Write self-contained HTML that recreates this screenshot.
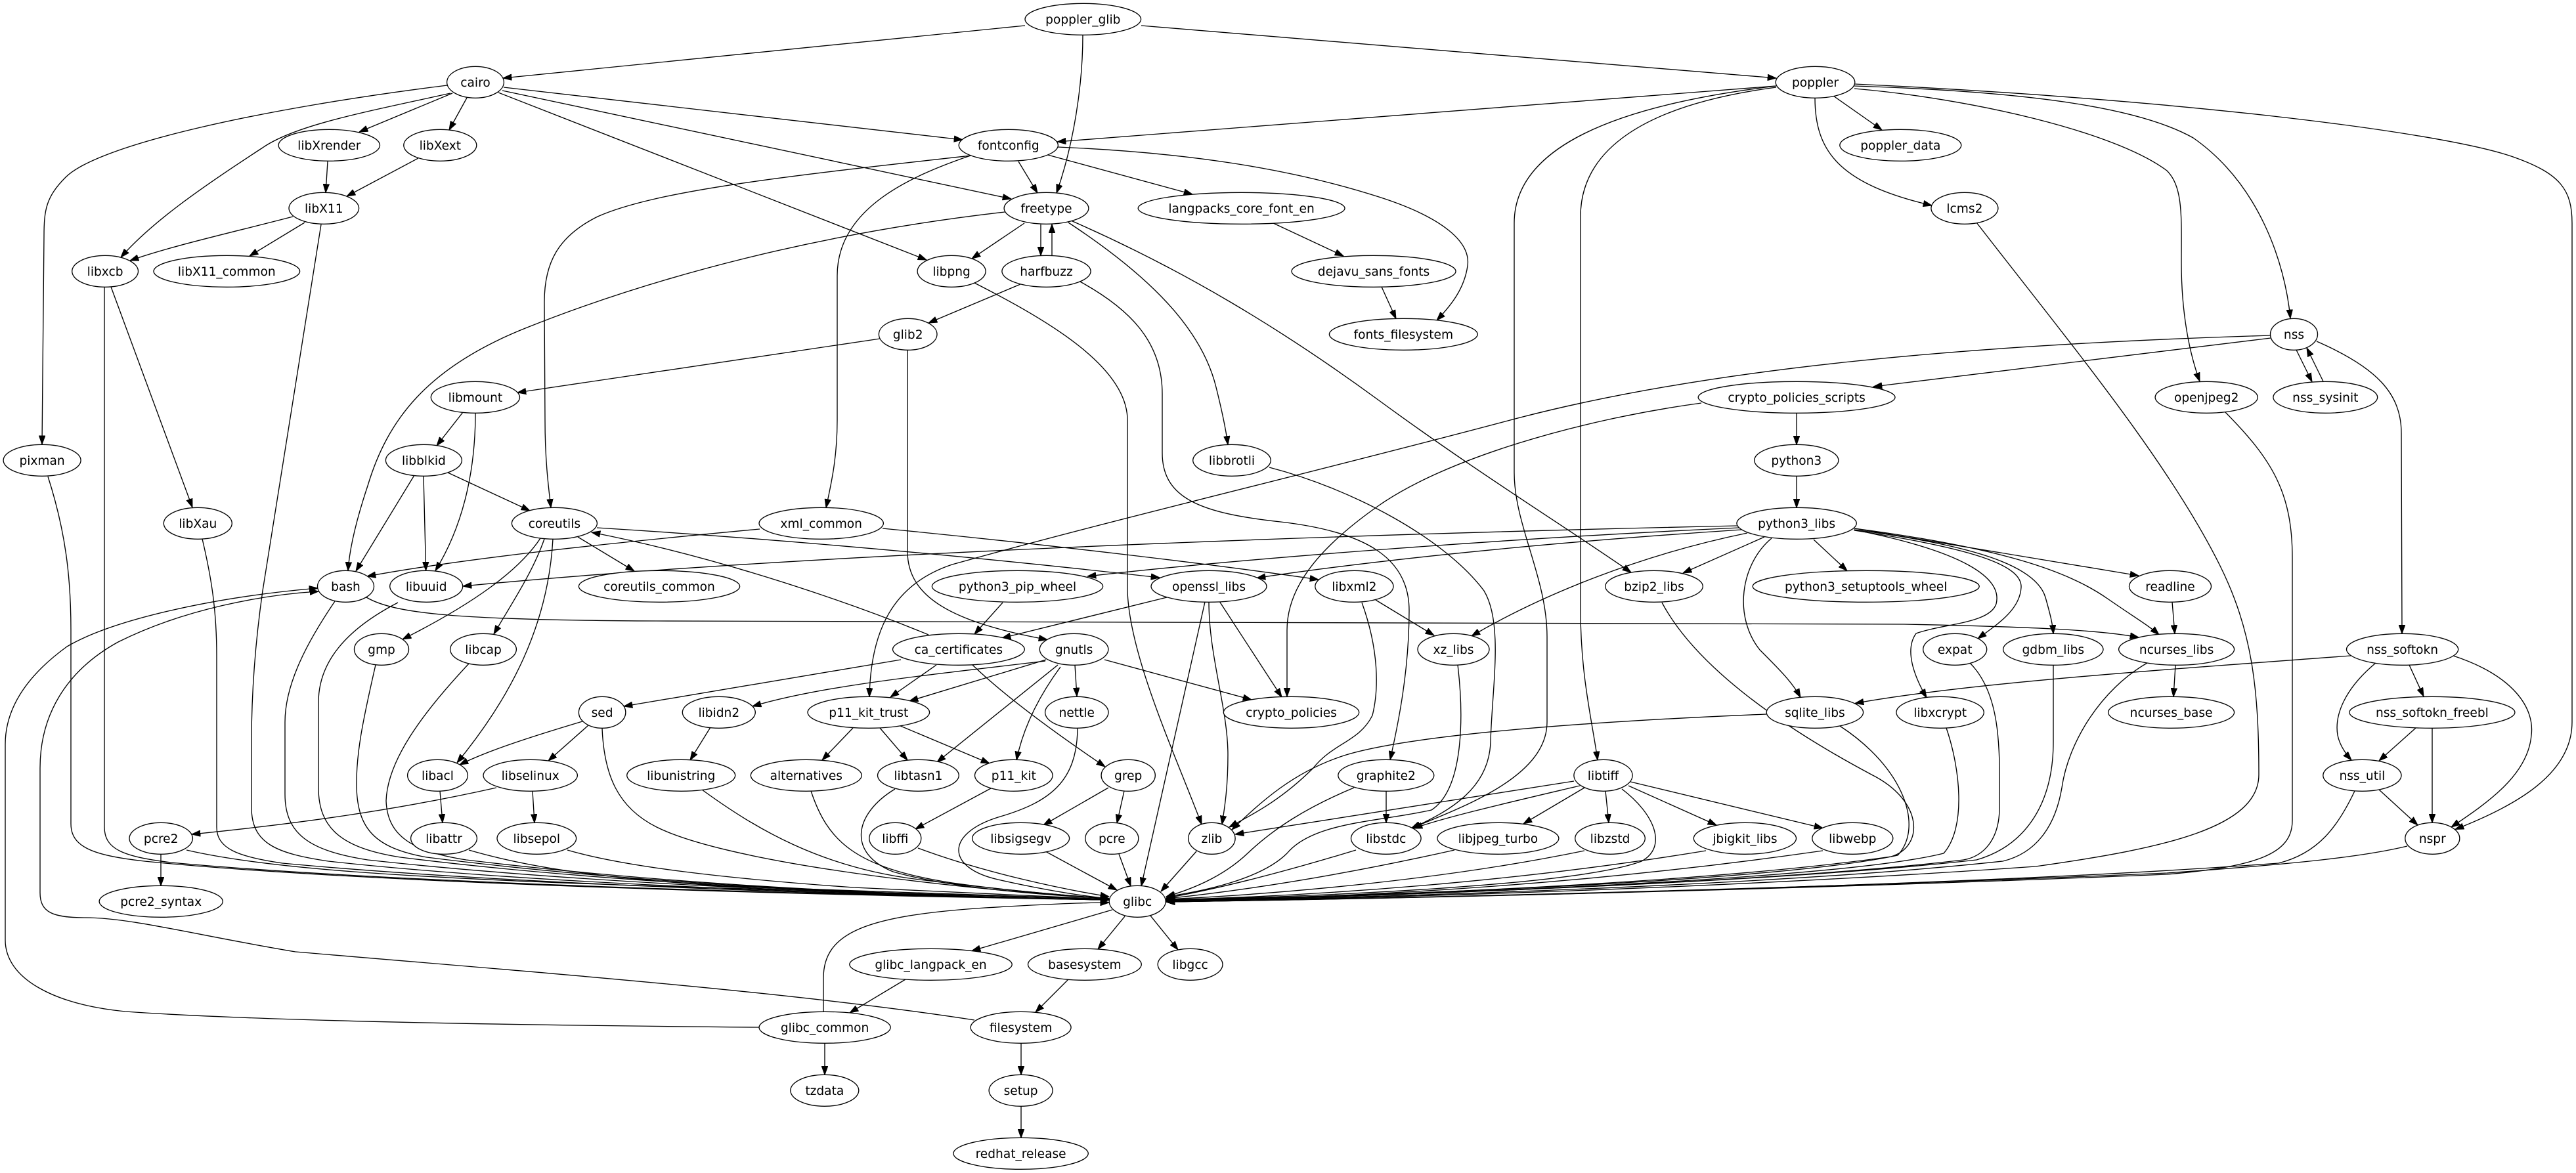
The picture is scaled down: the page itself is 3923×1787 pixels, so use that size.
<!DOCTYPE html>
<html><head><meta charset="utf-8"><style>
html,body{margin:0;padding:0;background:#fff;}
svg{display:block;}
#edges path{fill:none;stroke:#000;stroke-width:1.35;marker-end:url(#a);}
#nodes ellipse{fill:#fff;stroke:#000;stroke-width:1.35;}
#nodes text{font-family:"DejaVu Sans","Liberation Sans",sans-serif;font-size:18.6px;text-anchor:middle;fill:#000;}
</style></head><body>
<svg xmlns="http://www.w3.org/2000/svg" width="3923" height="1787" viewBox="0 0 3923 1787">
<defs><marker id="a" viewBox="0 0 14 10" refX="13.3" refY="5" markerWidth="14" markerHeight="10" orient="auto" markerUnits="userSpaceOnUse"><path d="M0,0.3 L13.3,5 L0,9.7 z" fill="#000" stroke="#000" stroke-width="1"/></marker></defs>
<rect width="3923" height="1787" fill="#fff"/>
<g id="edges">
<path d="M1561,39 L766,119"/>
<path d="M1649,53 C1649,130 1635,220 1609,294"/>
<path d="M1738,39 L2705,119"/>
<path d="M681,130 C400,165 150,220 100,270 C70,300 67,320 67,360 L64,677"/>
<path d="M686,142 C560,170 450,190 400,225 C300,290 230,340 184,392"/>
<path d="M689,142 L547,201"/>
<path d="M711,149 L684,198"/>
<path d="M767,133 L1466,213"/>
<path d="M765,138 L1540,303"/>
<path d="M759,141 L1411,396"/>
<path d="M499,246 L496,293.5"/>
<path d="M637,241 L528,299"/>
<path d="M446,330 C350,355 260,375 198,397"/>
<path d="M464,339 L380,390"/>
<path d="M489,342 L400,900 C390,970 383,1050 383,1130 L383,1230 C383,1285 420,1300 500,1312 C800,1345 1250,1362 1689,1371"/>
<path d="M169,437 L293,773"/>
<path d="M159,437 L159,1260 C159,1295 190,1305 260,1314 C600,1345 1200,1362 1689,1371"/>
<path d="M308,821 C322,880 330,930 330,1000 L330,1260 C330,1292 360,1305 430,1315 C750,1345 1250,1363 1689,1371"/>
<path d="M73,726 C100,810 108,880 108,960 L108,1255 C108,1290 140,1303 220,1312 C550,1345 1200,1363 1689,1371"/>
<path d="M2704,131 L1610,216"/>
<path d="M2792,146 L2866,198"/>
<path d="M2764,149 C2764,230 2800,280 2942,313"/>
<path d="M2824,135 C3000,150 3220,200 3300,260 C3325,285 3322,330 3322,400 C3322,480 3335,540 3350,581"/>
<path d="M2824,131 C3100,140 3260,165 3340,210 C3440,280 3480,400 3488,485"/>
<path d="M2824,128 C3300,150 3720,200 3830,240 C3900,265 3917,290 3917,340 L3917,1100 C3917,1180 3830,1228 3739,1263.5"/>
<path d="M2705,133 C2500,160 2407,230 2407,330 L2407,930 C2407,1030 2425,1100 2433,1158"/>
<path d="M2705,131 C2420,165 2306,240 2306,340 L2306,720 C2306,800 2356,880 2356,970 L2356,1100 C2356,1180 2240,1225 2150,1261.5"/>
<path d="M1933,712 C2060,745 2200,820 2260,900 C2290,950 2272,1050 2270,1130 C2268,1200 2210,1235 2149,1262"/>
<path d="M2406,1197 C2300,1222 2200,1245 2153,1262"/>
<path d="M1551,246 L1580,294"/>
<path d="M1592,235 L1816,296"/>
<path d="M1611,224 C1800,232 1960,255 2100,300 C2200,332 2240,370 2235,405 C2230,440 2210,465 2188,488"/>
<path d="M1479,237 C1200,268 1000,290 910,330 C850,360 829,400 829,460 L830,640 C830,700 835,740 839,773.5"/>
<path d="M1481,236 C1380,270 1275,320 1275,420 L1275,640 C1275,700 1265,740 1258,773.5"/>
<path d="M1530,323 C1250,355 1000,420 800,500 C650,560 590,640 560,740 C540,800 532,840 530,869.5"/>
<path d="M1560,340 L1480,394"/>
<path d="M1585,342 L1585,389.5"/>
<path d="M1602,389 L1602,341.5"/>
<path d="M1627,339 C1750,420 1830,500 1852,590 C1862,630 1867,655 1870,677.5"/>
<path d="M1631,336 C1800,410 1950,500 2100,610 C2250,720 2380,800 2484,872"/>
<path d="M1554,433 L1414,492"/>
<path d="M1643,428 C1720,470 1770,520 1770,600 L1770,690 C1770,760 1830,782 1950,795 C2080,810 2146,850 2146,930 C2146,1020 2130,1100 2117,1157.5"/>
<path d="M1484,431 C1600,490 1717,560 1717,640 L1717,900 C1720,1000 1790,1150 1830,1256"/>
<path d="M1937,339 L2046,390"/>
<path d="M2104,437 L2126,485.5"/>
<path d="M1340,516 L788,598"/>
<path d="M1382,533 L1382,840 C1382,910 1450,948 1595,974.5"/>
<path d="M705,628 L665,679"/>
<path d="M724,629 C724,700 712,790 663,869.5"/>
<path d="M631,724 L542,870"/>
<path d="M645,725 L648.6,869.3"/>
<path d="M682,720 L807,778"/>
<path d="M880,818 L966,870"/>
<path d="M909,804 C1200,822 1500,850 1766,880"/>
<path d="M823,820 C790,870 720,920 613,974"/>
<path d="M829,821 C812,870 782,915 752,966"/>
<path d="M842,821 C835,950 780,1060 696,1162"/>
<path d="M558,910 C600,935 700,945 1000,946 L2900,951 C3100,955 3200,960 3257,971"/>
<path d="M510,916 C470,975 434,1040 434,1100 L434,1210 C434,1270 470,1296 560,1310 C850,1342 1250,1362 1689,1371"/>
<path d="M606,918 C525,960 485,1010 485,1070 L485,1200 C485,1262 520,1292 610,1306 C880,1340 1250,1362 1689,1371"/>
<path d="M1157,806 C900,830 700,852 559,878"/>
<path d="M1344,805 C1600,830 1850,860 2008,883"/>
<path d="M2646,801 C2000,815 1200,845 705,893"/>
<path d="M2649,804 C2300,820 1900,850 1656,878"/>
<path d="M2652,807 C2300,830 2050,860 1914,880.5"/>
<path d="M2661,812 C2500,845 2350,905 2241,969"/>
<path d="M2687,818 L2563,873"/>
<path d="M2698,820 C2650,860 2640,940 2680,990 C2710,1020 2730,1040 2742,1062.5"/>
<path d="M2762,822 L2813,869.5"/>
<path d="M2823,807 C2990,840 3050,880 3040,920 C3030,950 2960,950 2918,965 C2900,990 2915,1030 2934,1063"/>
<path d="M2824,808 C3000,835 3080,860 3078,895 C3076,930 3040,952 3012,973"/>
<path d="M2824,807 C3000,830 3100,860 3115,910 C3122,935 3126,950 3127,965.5"/>
<path d="M2824,805 C3050,835 3150,870 3211,913 C3250,940 3275,955 3288,967"/>
<path d="M2824,805 L3257,877"/>
<path d="M3308,917 L3312,965.5"/>
<path d="M3313,1013 L3310,1061.5"/>
<path d="M3270,1010 C3200,1050 3150,1130 3140,1200 C3130,1260 3100,1300 3050,1312 C2700,1350 2100,1367 1776,1373"/>
<path d="M2736,629.5 L2736,677.5"/>
<path d="M2591,614 C2400,640 2200,700 2100,770 C2000,840 1960,900 1960,960 L1960,1061.5"/>
<path d="M2736,725.5 L2736,773.5"/>
<path d="M3458,515 C3200,545 3000,570 2853,589"/>
<path d="M3458,511 C3000,525 2600,560 2300,640 C2000,720 1700,790 1450,860 C1360,890 1326,960 1324,1061.5"/>
<path d="M3497,533 L3521,581.5"/>
<path d="M3538,581 L3513,530"/>
<path d="M3528,520 C3620,560 3657,600 3657,660 L3658,965.5"/>
<path d="M3389,628 C3460,700 3491,750 3491,850 L3491,1250 C3491,1300 3440,1320 3300,1332 C2700,1357 2100,1369 1776,1374"/>
<path d="M3010,339 C3150,520 3300,700 3380,860 C3430,960 3440,1050 3440,1180 C3440,1260 3300,1292 3100,1320 C2600,1355 2100,1368 1776,1374"/>
<path d="M3580,999 C3300,1020 3000,1040 2825,1071.5"/>
<path d="M3669,1013 L3691,1061"/>
<path d="M3618,1010 C3570,1050 3555,1090 3560,1120 C3563,1135 3572,1148 3581,1158"/>
<path d="M3736,999 C3830,1030 3860,1080 3855,1120 C3850,1180 3790,1222 3733,1260"/>
<path d="M3679,1109 L3623,1159"/>
<path d="M3704,1109.5 L3704,1253.5"/>
<path d="M3623,1203 L3682,1257"/>
<path d="M3586,1205 C3560,1260 3530,1300 3470,1315 C3000,1350 2200,1368 1776,1374"/>
<path d="M3666,1289 C3600,1305 3500,1316 3300,1330 C2700,1356 2100,1369 1776,1374"/>
<path d="M2776,1296 C2400,1350 2050,1368 1776,1372"/>
<path d="M2598,1296 C2300,1345 2000,1365 1776,1371"/>
<path d="M2413,1296 C2200,1340 1950,1362 1776,1370"/>
<path d="M2215,1295 C2050,1332 1900,1356 1776,1369"/>
<path d="M2065,1295 C1950,1330 1850,1355 1776,1368"/>
<path d="M2470,1202 C2520,1240 2540,1290 2500,1312 C2400,1350 2000,1366 1776,1371"/>
<path d="M2062,1200 C1990,1230 1940,1262 1900,1300 C1860,1338 1810,1356 1776,1366"/>
<path d="M2220,1013 C2228,1080 2232,1200 2180,1234 C2100,1252 2000,1252 1960,1300 C1920,1340 1830,1358 1776,1366"/>
<path d="M2531,918 C2580,1010 2700,1100 2850,1180 C2930,1220 2930,1290 2880,1305 C2600,1345 2100,1366 1776,1372"/>
<path d="M2802,1106 C2900,1170 2930,1260 2890,1303 C2700,1344 2100,1364 1776,1372"/>
<path d="M2964,1109 C2985,1170 2995,1260 2960,1300 C2800,1340 2200,1362 1776,1373"/>
<path d="M3000,1010 C3050,1060 3045,1150 3045,1230 C3045,1280 3020,1305 2990,1310 C2700,1345 2100,1365 1776,1373"/>
<path d="M3127,1013 L3127,1130 C3127,1230 3080,1290 3010,1310 C2700,1345 2100,1365 1776,1373"/>
<path d="M1822,1297 L1768,1358"/>
<path d="M1777,910 L1526,972"/>
<path d="M1857,916 L1952,1062"/>
<path d="M1841,917 C1841,1000 1870,1080 1870,1150 C1870,1200 1865,1230 1861,1256"/>
<path d="M1835,917 L1738,1350"/>
<path d="M1527,918 L1484,966"/>
<path d="M1414,967 C1300,920 1100,850 901,811"/>
<path d="M1372,1005 L950,1076"/>
<path d="M1426,1013 L1356,1062"/>
<path d="M1481,1013 C1530,1060 1600,1112 1683,1168"/>
<path d="M1592,1007 C1400,1030 1250,1045 1146,1076"/>
<path d="M1593,1005 L1385,1068"/>
<path d="M1611,1013 L1427,1161"/>
<path d="M1615,1016 C1590,1050 1560,1100 1548,1158"/>
<path d="M1637,1013 L1640,1061"/>
<path d="M1682,1005 L1906,1066"/>
<path d="M1082,1108 L1051,1158"/>
<path d="M1299,1109 L1252,1158"/>
<path d="M1340,1109 L1382,1158"/>
<path d="M1369,1105 L1507,1163"/>
<path d="M1509,1201 L1394,1263"/>
<path d="M1688,1200 L1589,1257"/>
<path d="M1712,1205 L1701,1254"/>
<path d="M1641,1110 C1640,1190 1600,1222 1520,1245 C1440,1270 1440,1322 1520,1340 C1600,1358 1650,1365 1689,1369"/>
<path d="M1363,1202 C1300,1240 1290,1300 1360,1328 C1450,1354 1600,1364 1689,1369"/>
<path d="M1398,1292 C1500,1330 1620,1355 1689,1366"/>
<path d="M1592,1297 L1701,1356"/>
<path d="M1704,1301 L1722,1350"/>
<path d="M1235,1205 C1260,1280 1300,1322 1450,1345 C1550,1359 1640,1365 1689,1369"/>
<path d="M1069,1203 C1150,1262 1250,1322 1400,1340 C1520,1355 1620,1364 1689,1369"/>
<path d="M284,1295 C400,1322 600,1337 1000,1350 C1300,1360 1550,1366 1689,1370"/>
<path d="M714,1295 C800,1320 900,1336 1100,1350 C1400,1362 1550,1367 1689,1370"/>
<path d="M864,1295 C950,1320 1100,1338 1300,1352 C1500,1362 1600,1366 1689,1370"/>
<path d="M917,1110 C920,1180 940,1230 1000,1260 C1100,1310 1400,1350 1689,1369"/>
<path d="M572,1013 C552,1100 542,1150 543,1200 C545,1262 570,1292 650,1306 C920,1340 1250,1362 1689,1371"/>
<path d="M714,1011 C640,1090 590,1160 588,1220 C590,1272 625,1297 710,1310 C960,1340 1260,1362 1689,1371"/>
<path d="M1254,1541 L1254,1490 C1254,1420 1320,1395 1500,1383 C1600,1377 1650,1375 1689,1375"/>
<path d="M1694,1386 L1480,1448.5"/>
<path d="M1713,1396 L1672,1446"/>
<path d="M1752,1395 L1794,1447"/>
<path d="M1379,1492 L1294,1543"/>
<path d="M1627,1492 L1577,1542"/>
<path d="M1256,1589.5 L1256,1637.5"/>
<path d="M1555,1589.5 L1555,1637.5"/>
<path d="M1555,1685.5 L1555,1733.5"/>
<path d="M1156,1565 C800,1562 400,1556 191,1541 C80,1530 8,1490 8,1432 L8,1134 C8,1080 40,1030 102,985 C170,945 320,910 484,896"/>
<path d="M1484,1554 C1200,1510 800,1480 450,1450 C300,1425 200,1398 130,1398 C80,1398 61,1390 61,1360 L61,1170 C61,1090 100,1022 180,978 C280,928 400,906 485,901"/>
<path d="M245,1301 L245,1349.5"/>
<path d="M756,1200 C600,1235 450,1255 292,1271"/>
<path d="M811,1205 L814,1253.5"/>
<path d="M670,1205 L674,1253.5"/>
<path d="M887,1099 C800,1125 740,1145 700,1165"/>
<path d="M896,1105 L835,1159"/>
<path d="M2095,914 L2184,968"/>
<path d="M2074,918 C2100,990 2100,1050 2090,1090 C2070,1130 2030,1132 2000,1170 C1950,1220 1905,1242 1872,1260"/>
<path d="M2690,1088 C2400,1100 2150,1120 2050,1150 C1970,1175 1920,1222 1876,1264"/>
<path d="M2397,1190 L1881,1271"/>
<path d="M2413,1200 L2320,1255"/>
<path d="M2445,1205 L2450,1253.5"/>
<path d="M2480,1197 L2614,1257"/>
<path d="M2483,1191 L2776,1261.5"/>
<path d="M2111,1205.5 L2111,1253.5"/>
</g>
<g id="nodes">
<ellipse cx="1649.3" cy="29.3" rx="88.3" ry="24"/><text x="1649.3" y="35.8">poppler_glib</text>
<ellipse cx="724" cy="125.3" rx="43.4" ry="24"/><text x="724" y="131.8">cairo</text>
<ellipse cx="2764.5" cy="125.3" rx="60.3" ry="24"/><text x="2764.5" y="131.8">poppler</text>
<ellipse cx="501.3" cy="221.3" rx="77.2" ry="24"/><text x="501.3" y="227.8">libXrender</text>
<ellipse cx="670.3" cy="221.3" rx="55.5" ry="24"/><text x="670.3" y="227.8">libXext</text>
<ellipse cx="1535.8" cy="221.3" rx="75.6" ry="24"/><text x="1535.8" y="227.8">fontconfig</text>
<ellipse cx="2894.3" cy="221.3" rx="92.5" ry="24"/><text x="2894.3" y="227.8">poppler_data</text>
<ellipse cx="493.3" cy="317.3" rx="53.3" ry="24"/><text x="493.3" y="323.8">libX11</text>
<ellipse cx="1593.5" cy="317.3" rx="64.4" ry="24"/><text x="1593.5" y="323.8">freetype</text>
<ellipse cx="1890.6" cy="317.3" rx="157.4" ry="24"/><text x="1890.6" y="323.8">langpacks_core_font_en</text>
<ellipse cx="2991.9" cy="317.3" rx="51" ry="24"/><text x="2991.9" y="323.8">lcms2</text>
<ellipse cx="160.1" cy="413.3" rx="50.4" ry="24"/><text x="160.1" y="419.8">libxcb</text>
<ellipse cx="345.3" cy="413.3" rx="111.3" ry="24"/><text x="345.3" y="419.8">libX11_common</text>
<ellipse cx="1449.1" cy="413.3" rx="52" ry="24"/><text x="1449.1" y="419.8">libpng</text>
<ellipse cx="1593.5" cy="413.3" rx="67.6" ry="24"/><text x="1593.5" y="419.8">harfbuzz</text>
<ellipse cx="2092" cy="413.3" rx="125" ry="24"/><text x="2092" y="419.8">dejavu_sans_fonts</text>
<ellipse cx="1382.7" cy="509.3" rx="44.3" ry="24"/><text x="1382.7" y="515.8">glib2</text>
<ellipse cx="2137.3" cy="509.3" rx="112.9" ry="24"/><text x="2137.3" y="515.8">fonts_filesystem</text>
<ellipse cx="3493.5" cy="509.3" rx="36" ry="24"/><text x="3493.5" y="515.8">nss</text>
<ellipse cx="723.9" cy="605.3" rx="67.6" ry="24"/><text x="723.9" y="611.8">libmount</text>
<ellipse cx="2736.1" cy="605.3" rx="149.9" ry="24"/><text x="2736.1" y="611.8">crypto_policies_scripts</text>
<ellipse cx="3360.2" cy="605.3" rx="78.1" ry="24"/><text x="3360.2" y="611.8">openjpeg2</text>
<ellipse cx="3541.3" cy="605.3" rx="79.4" ry="24"/><text x="3541.3" y="611.8">nss_sysinit</text>
<ellipse cx="64.1" cy="701.3" rx="59" ry="24"/><text x="64.1" y="707.8">pixman</text>
<ellipse cx="645.4" cy="701.3" rx="58" ry="24"/><text x="645.4" y="707.8">libblkid</text>
<ellipse cx="1876" cy="701.3" rx="59.3" ry="24"/><text x="1876" y="707.8">libbrotli</text>
<ellipse cx="2735.8" cy="701.3" rx="64.1" ry="24"/><text x="2735.8" y="707.8">python3</text>
<ellipse cx="301.3" cy="797.3" rx="52" ry="24"/><text x="301.3" y="803.8">libXau</text>
<ellipse cx="844.4" cy="797.3" rx="65" ry="24"/><text x="844.4" y="803.8">coreutils</text>
<ellipse cx="1250.7" cy="797.3" rx="94.7" ry="24"/><text x="1250.7" y="803.8">xml_common</text>
<ellipse cx="2736.1" cy="797.3" rx="91.2" ry="24"/><text x="2736.1" y="803.8">python3_libs</text>
<ellipse cx="526.5" cy="893.3" rx="43" ry="24"/><text x="526.5" y="899.8">bash</text>
<ellipse cx="649.2" cy="893.3" rx="55.5" ry="24"/><text x="649.2" y="899.8">libuuid</text>
<ellipse cx="1004" cy="893.3" rx="122.6" ry="24"/><text x="1004" y="899.8">coreutils_common</text>
<ellipse cx="1549.5" cy="893.3" rx="130.1" ry="24"/><text x="1549.5" y="899.8">python3_pip_wheel</text>
<ellipse cx="1841" cy="893.3" rx="88" ry="24"/><text x="1841" y="899.8">openssl_libs</text>
<ellipse cx="2062.4" cy="893.3" rx="59.6" ry="24"/><text x="2062.4" y="899.8">libxml2</text>
<ellipse cx="2519" cy="893.3" rx="74.3" ry="24"/><text x="2519" y="899.8">bzip2_libs</text>
<ellipse cx="2841.7" cy="893.3" rx="172.5" ry="24"/><text x="2841.7" y="899.8">python3_setuptools_wheel</text>
<ellipse cx="3305" cy="893.3" rx="62.5" ry="24"/><text x="3305" y="899.8">readline</text>
<ellipse cx="581" cy="989.3" rx="41.5" ry="24"/><text x="581" y="995.8">gmp</text>
<ellipse cx="736" cy="989.3" rx="50.4" ry="24"/><text x="736" y="995.8">libcap</text>
<ellipse cx="1459.9" cy="989.3" rx="100.4" ry="24"/><text x="1459.9" y="995.8">ca_certificates</text>
<ellipse cx="1635.6" cy="989.3" rx="52.3" ry="24"/><text x="1635.6" y="995.8">gnutls</text>
<ellipse cx="2213.5" cy="989.3" rx="54.5" ry="24"/><text x="2213.5" y="995.8">xz_libs</text>
<ellipse cx="2977.2" cy="989.3" rx="48.5" ry="24"/><text x="2977.2" y="995.8">expat</text>
<ellipse cx="3126.8" cy="989.3" rx="76.2" ry="24"/><text x="3126.8" y="995.8">gdbm_libs</text>
<ellipse cx="3314.6" cy="989.3" rx="88" ry="24"/><text x="3314.6" y="995.8">ncurses_libs</text>
<ellipse cx="3658.6" cy="989.3" rx="85.1" ry="24"/><text x="3658.6" y="995.8">nss_softokn</text>
<ellipse cx="917.1" cy="1085.3" rx="35.7" ry="24"/><text x="917.1" y="1091.8">sed</text>
<ellipse cx="1094.8" cy="1085.3" rx="55.5" ry="24"/><text x="1094.8" y="1091.8">libidn2</text>
<ellipse cx="1322.8" cy="1085.3" rx="92.8" ry="24"/><text x="1322.8" y="1091.8">p11_kit_trust</text>
<ellipse cx="1639.8" cy="1085.3" rx="48.2" ry="24"/><text x="1639.8" y="1091.8">nettle</text>
<ellipse cx="1966.5" cy="1085.3" rx="103.2" ry="24"/><text x="1966.5" y="1091.8">crypto_policies</text>
<ellipse cx="2763.9" cy="1085.3" rx="73.7" ry="24"/><text x="2763.9" y="1091.8">sqlite_libs</text>
<ellipse cx="2954.6" cy="1085.3" rx="66.7" ry="24"/><text x="2954.6" y="1091.8">libxcrypt</text>
<ellipse cx="3306.6" cy="1085.3" rx="96" ry="24"/><text x="3306.6" y="1091.8">ncurses_base</text>
<ellipse cx="3703.9" cy="1085.3" rx="126" ry="24"/><text x="3703.9" y="1091.8">nss_softokn_freebl</text>
<ellipse cx="666.5" cy="1181.3" rx="45.9" ry="24"/><text x="666.5" y="1187.8">libacl</text>
<ellipse cx="807.7" cy="1181.3" rx="71.7" ry="24"/><text x="807.7" y="1187.8">libselinux</text>
<ellipse cx="1037.2" cy="1181.3" rx="82.5" ry="24"/><text x="1037.2" y="1187.8">libunistring</text>
<ellipse cx="1227.8" cy="1181.3" rx="84.5" ry="24"/><text x="1227.8" y="1187.8">alternatives</text>
<ellipse cx="1398.4" cy="1181.3" rx="61.9" ry="24"/><text x="1398.4" y="1187.8">libtasn1</text>
<ellipse cx="1543.8" cy="1181.3" rx="59.3" ry="24"/><text x="1543.8" y="1187.8">p11_kit</text>
<ellipse cx="1718.2" cy="1181.3" rx="41.1" ry="24"/><text x="1718.2" y="1187.8">grep</text>
<ellipse cx="2110.8" cy="1181.3" rx="73" ry="24"/><text x="2110.8" y="1187.8">graphite2</text>
<ellipse cx="2441.5" cy="1181.3" rx="44.6" ry="24"/><text x="2441.5" y="1187.8">libtiff</text>
<ellipse cx="3597.4" cy="1181.3" rx="59.6" ry="24"/><text x="3597.4" y="1187.8">nss_util</text>
<ellipse cx="245.2" cy="1277.3" rx="48.2" ry="24"/><text x="245.2" y="1283.8">pcre2</text>
<ellipse cx="676" cy="1277.3" rx="50.4" ry="24"/><text x="676" y="1283.8">libattr</text>
<ellipse cx="817.3" cy="1277.3" rx="60.3" ry="24"/><text x="817.3" y="1283.8">libsepol</text>
<ellipse cx="1363.3" cy="1277.3" rx="39.5" ry="24"/><text x="1363.3" y="1283.8">libffi</text>
<ellipse cx="1554.6" cy="1277.3" rx="74" ry="24"/><text x="1554.6" y="1283.8">libsigsegv</text>
<ellipse cx="1693.3" cy="1277.3" rx="40.5" ry="24"/><text x="1693.3" y="1283.8">pcre</text>
<ellipse cx="1845.4" cy="1277.3" rx="35.7" ry="24"/><text x="1845.4" y="1283.8">zlib</text>
<ellipse cx="2110.8" cy="1277.3" rx="53.3" ry="24"/><text x="2110.8" y="1283.8">libstdc</text>
<ellipse cx="2281.4" cy="1277.3" rx="92.5" ry="24"/><text x="2281.4" y="1283.8">libjpeg_turbo</text>
<ellipse cx="2452" cy="1277.3" rx="53.3" ry="24"/><text x="2452" y="1283.8">libzstd</text>
<ellipse cx="2657.4" cy="1277.3" rx="78.1" ry="24"/><text x="2657.4" y="1283.8">jbigkit_libs</text>
<ellipse cx="2821.3" cy="1277.3" rx="61.5" ry="24"/><text x="2821.3" y="1283.8">libwebp</text>
<ellipse cx="3704.3" cy="1277.3" rx="41.5" ry="24"/><text x="3704.3" y="1283.8">nspr</text>
<ellipse cx="245.2" cy="1373.3" rx="94.1" ry="24"/><text x="245.2" y="1379.8">pcre2_syntax</text>
<ellipse cx="1732.2" cy="1373.3" rx="43" ry="24"/><text x="1732.2" y="1379.8">glibc</text>
<ellipse cx="1417.5" cy="1469.3" rx="123.7" ry="24"/><text x="1417.5" y="1475.8">glibc_langpack_en</text>
<ellipse cx="1651.9" cy="1469.3" rx="86.4" ry="24"/><text x="1651.9" y="1475.8">basesystem</text>
<ellipse cx="1812.6" cy="1469.3" rx="49.4" ry="24"/><text x="1812.6" y="1475.8">libgcc</text>
<ellipse cx="1256.1" cy="1565.3" rx="100.1" ry="24"/><text x="1256.1" y="1571.8">glibc_common</text>
<ellipse cx="1554.6" cy="1565.3" rx="76.5" ry="24"/><text x="1554.6" y="1571.8">filesystem</text>
<ellipse cx="1255.8" cy="1661.3" rx="52" ry="24"/><text x="1255.8" y="1667.8">tzdata</text>
<ellipse cx="1554.6" cy="1661.3" rx="48.5" ry="24"/><text x="1554.6" y="1667.8">setup</text>
<ellipse cx="1554.6" cy="1757.3" rx="102.7" ry="24"/><text x="1554.6" y="1763.8">redhat_release</text>
</g>
</svg>
</body></html>
